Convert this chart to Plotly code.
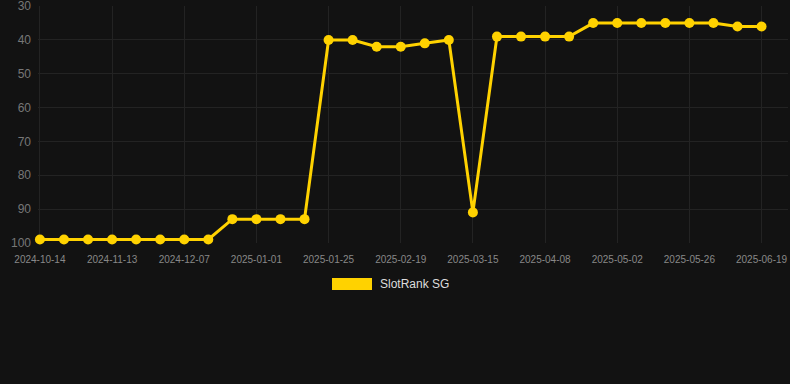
import plotly.graph_objects as go

dates = ["2024-10-14", "2024-10-24", "2024-11-03", "2024-11-13", "2024-11-21", "2024-11-29",
         "2024-12-07", "2024-12-15", "2024-12-23", "2025-01-01", "2025-01-09", "2025-01-17",
         "2025-01-25", "2025-02-02", "2025-02-10", "2025-02-19", "2025-02-27", "2025-03-07",
         "2025-03-15", "2025-03-23", "2025-03-31", "2025-04-08", "2025-04-16", "2025-04-24",
         "2025-05-02", "2025-05-10", "2025-05-18", "2025-05-26", "2025-06-03", "2025-06-11",
         "2025-06-19"]
rank = [99, 99, 99, 99, 99, 99, 99, 99, 93, 93, 93, 93,
        40, 40, 42, 42, 41, 40, 91, 39, 39, 39, 39, 35,
        35, 35, 35, 35, 35, 36, 36]
tick_labels = dates[::3]
y_ticks = [30, 40, 50, 60, 70, 80, 90, 100]
series_name = "SlotRank SG"
color = "#FFD200"

fig = go.Figure()
fig.add_trace(go.Scatter(
    x=dates, y=rank, mode="lines+markers", name=series_name,
    line=dict(color=color, width=3),
    marker=dict(color=color, size=10),
    cliponaxis=False,
    showlegend=False,
))

fig.update_layout(
    width=790, height=384,
    margin=dict(l=38, r=2, t=6, b=141),
    paper_bgcolor="#121212", plot_bgcolor="#121212",
    font=dict(family="Liberation Sans, Arial, sans-serif"),
    xaxis=dict(
        type="category", range=[-0.08, 31.1], automargin=False,
        tickvals=tick_labels, ticktext=tick_labels,
        tickfont=dict(size=10, color="#888888"),
        ticklabelstandoff=9, ticklabeloverflow="allow",
        showgrid=True, gridcolor="#232323", gridwidth=1,
        zeroline=False, showline=False, ticks="", ticklen=0,
    ),
    yaxis=dict(
        range=[100.05, 29.95], tickvals=y_ticks, automargin=False,
        tickfont=dict(size=12, color="#777777"),
        ticklabelstandoff=6, ticklabeloverflow="allow",
        showgrid=True, gridcolor="#232323", gridwidth=1,
        zeroline=False, showline=False, ticks="",
    ),
    shapes=[dict(type="rect", xref="paper", yref="paper",
                 x0=(332 - 38) / 750, x1=(372 - 38) / 750,
                 y0=(384 - 141 - 290) / 237, y1=(384 - 141 - 278) / 237,
                 fillcolor=color, line=dict(width=0))],
    annotations=[dict(text=series_name, xref="paper", yref="paper",
                      x=(378 - 38) / 750, y=(384 - 141 - 284) / 237,
                      xanchor="left", yanchor="middle", showarrow=False,
                      font=dict(size=12, color="#dddddd"))],
)

fig.write_html("out.html")
